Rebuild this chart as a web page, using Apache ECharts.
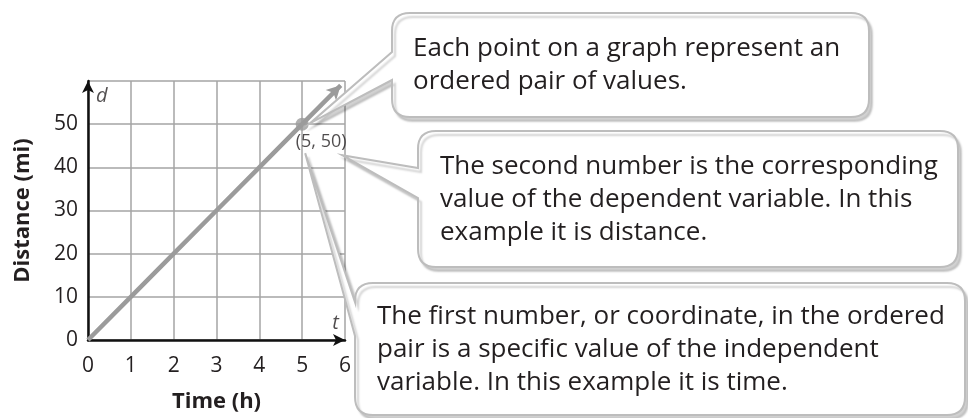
<!DOCTYPE html>
<html>
<head>
<meta charset="utf-8">
<script src="https://cdn.jsdelivr.net/npm/echarts@6/dist/echarts.min.js"></script>
<style>
  html, body { margin: 0; padding: 0; background: #fff; }
  #chart { width: 968px; height: 418px; }
</style>
</head>
<body>
<div id="chart"></div>
<script>
// data
const timeHours = [0, 1, 2, 3, 4, 5];
const distanceMiles = [0, 10, 20, 30, 40, 50];
const arrowTip = [5.9, 59];
const highlightPoint = [5, 50];
const xTickLabels = [0, 1, 2, 3, 4, 5, 6];
const yTickLabels = [0, 10, 20, 30, 40, 50];
const axisVarNames = ['d', 't'];
const axisVarSpots = [[0.32, 56.4], [5.78, 3.9]];
const calloutTexts = [
    'Each point on a graph represent an\nordered pair of values.',
    'The second number is the corresponding\nvalue of the dependent variable. In this\nexample it is distance.',
    'The first number, or coordinate, in the ordered\npair is a specific value of the independent\nvariable. In this example it is time.'
];

const FONT = '"Open Sans", "Noto Sans", sans-serif';
const GRAY = '#9b9b9b';

// bubble boxes in pixels; the pointer tip is offset from the point (5, 50)
const bubbles = [
    { x0: 392, y0: 13, x1: 869, y1: 117, r: 18, w1: 52, w2: 80, tip: [8, -1], tx: 413, ty: 32 },
    { x0: 418, y0: 131, x1: 958, y1: 267, r: 18, w1: 168, w2: 198, tip: [40, 31], tx: 440, ty: 150 },
    { x0: 355, y0: 283, x1: 965, y1: 415, r: 18, w1: 302, w2: 336, tip: [3, 29], tx: 377, ty: 300 }
];

function bubblePath(b, tx, ty) {
    const { x0, y0, x1, y1, r, w1, w2 } = b;
    return 'M' + (x0 + r) + ' ' + y0 +
        ' L' + (x1 - r) + ' ' + y0 + ' Q' + x1 + ' ' + y0 + ' ' + x1 + ' ' + (y0 + r) +
        ' L' + x1 + ' ' + (y1 - r) + ' Q' + x1 + ' ' + y1 + ' ' + (x1 - r) + ' ' + y1 +
        ' L' + (x0 + r) + ' ' + y1 + ' Q' + x0 + ' ' + y1 + ' ' + x0 + ' ' + (y1 - r) +
        ' L' + x0 + ' ' + w2 + ' L' + tx + ' ' + ty + ' L' + x0 + ' ' + w1 +
        ' L' + x0 + ' ' + (y0 + r) + ' Q' + x0 + ' ' + y0 + ' ' + (x0 + r) + ' ' + y0 + ' Z';
}

function renderBubble(params, api) {
    const b = bubbles[params.dataIndex];
    const p = api.coord([api.value(0), api.value(1)]);
    return {
        type: 'group',
        children: [
            {
                type: 'path',
                shape: { pathData: bubblePath(b, p[0] + b.tip[0], p[1] + b.tip[1]) },
                style: {
                    fill: '#fff', stroke: '#bdbdbd', lineWidth: 2,
                    shadowColor: 'rgba(0,0,0,0.18)', shadowBlur: 2, shadowOffsetX: 3, shadowOffsetY: 4
                }
            },
            {
                type: 'text',
                style: {
                    text: calloutTexts[params.dataIndex], x: b.tx, y: b.ty,
                    font: '26px ' + FONT, fill: '#231f20', lineHeight: 33
                }
            }
        ]
    };
}

const chart = echarts.init(document.getElementById('chart'));

chart.setOption({
    animation: false,
    grid: { left: 88, right: 623, top: 81, bottom: 78 },
    xAxis: {
        type: 'value', min: 0, max: 6, interval: 1,
        name: 'Time (h)', nameLocation: 'middle', nameGap: 51,
        nameTextStyle: { fontFamily: FONT, fontSize: 22, fontWeight: 'bold', color: '#231f20' },
        axisLine: { lineStyle: { color: '#111', width: 2.5 }, symbol: ['none', 'arrow'], symbolSize: [9, 12] },
        axisTick: { show: false },
        axisLabel: {
            margin: 16, fontFamily: FONT, fontSize: 21, color: '#231f20',
            formatter: v => xTickLabels.includes(v) ? String(v) : ''
        },
        splitLine: { lineStyle: { color: '#a5a5a5', width: 1.5 } }
    },
    yAxis: {
        type: 'value', min: 0, max: 60, interval: 10,
        name: 'Distance (mi)', nameLocation: 'middle', nameGap: 54,
        nameTextStyle: { fontFamily: FONT, fontSize: 22, fontWeight: 'bold', color: '#231f20' },
        axisLine: { lineStyle: { color: '#111', width: 2.5 }, symbol: ['none', 'arrow'], symbolSize: [9, 12] },
        axisTick: { show: false },
        axisLabel: {
            margin: 10, fontFamily: FONT, fontSize: 21, color: '#231f20',
            formatter: v => yTickLabels.includes(v) ? String(v) : ''
        },
        splitLine: { lineStyle: { color: '#a5a5a5', width: 1.5 } }
    },
    series: [
        {
            type: 'line',
            data: timeHours.map((t, i) => [t, distanceMiles[i]]),
            showSymbol: false,
            lineStyle: { color: GRAY, width: 4.5 },
            z: 3,
            markLine: {
                silent: true,
                symbol: ['none', 'arrow'],
                symbolSize: [11, 14],
                label: { show: false },
                lineStyle: { color: GRAY, width: 4.5, type: 'solid' },
                data: [[{ coord: highlightPoint }, { coord: arrowTip }]]
            }
        },
        {
            type: 'scatter',
            data: [highlightPoint],
            symbolSize: 13,
            itemStyle: { color: GRAY },
            z: 4,
            label: {
                show: true, position: 'bottom', distance: 2, offset: [19, 0],
                formatter: '(5, 50)',
                fontFamily: FONT, fontSize: 18, color: '#231f20'
            }
        },
        {
            type: 'scatter',
            data: axisVarSpots.map((p, i) => ({ value: p, name: axisVarNames[i] })),
            symbolSize: 0,
            silent: true,
            label: {
                show: true, position: 'inside', formatter: '{b}',
                fontFamily: FONT, fontSize: 20, fontStyle: 'italic', color: '#231f20'
            }
        },
        {
            type: 'custom',
            coordinateSystem: 'cartesian2d',
            clip: false,
            silent: true,
            z: 10,
            data: calloutTexts.map(() => highlightPoint),
            renderItem: renderBubble
        }
    ]
});
</script>
</body>
</html>
